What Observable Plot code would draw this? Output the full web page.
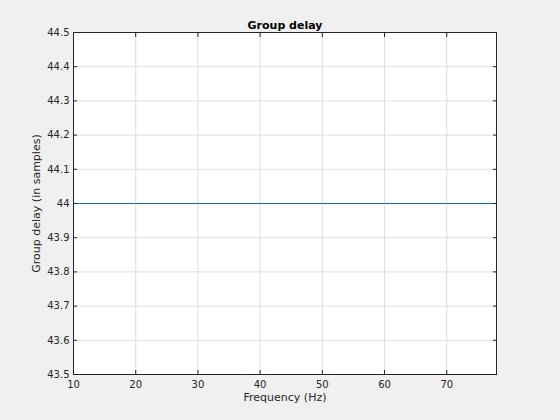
<!DOCTYPE html>
<html>
<head>
<meta charset="utf-8">
<script src="https://cdn.jsdelivr.net/npm/d3@7"></script>
<script src="https://cdn.jsdelivr.net/npm/@observablehq/plot@0.6"></script>
<style>
  html, body { margin: 0; padding: 0; background: #f0f0f0; }
  #chart svg { display: block; }
</style>
</head>
<body>
<div id="chart"></div>
<script>
const frequencies = [10, 20, 30, 40, 50, 60, 70, 78];
const groupDelay = [44, 44, 44, 44, 44, 44, 44, 44];
const xTicks = [10, 20, 30, 40, 50, 60, 70];
const yTicks = [43.5, 43.6, 43.7, 43.8, 43.9, 44, 44.1, 44.2, 44.3, 44.4, 44.5];
const xDomain = [10, 78];
const yDomain = [43.5, 44.5];
const title = "Group delay";
const xLabel = "Frequency (Hz)";
const yLabel = "Group delay (in samples)";

const data = frequencies.map((f, i) => ({f, g: groupDelay[i]}));
const fmt = d => String(+d.toFixed(1));
const ink = "#262626";

const chart = Plot.plot({
  width: 560,
  height: 420,
  marginLeft: 73,
  marginRight: 64,
  marginTop: 32,
  marginBottom: 46,
  style: {background: "#f0f0f0", fontFamily: "DejaVu Sans, sans-serif", fontSize: "10px", color: ink},
  x: {domain: xDomain, label: null},
  y: {domain: yDomain, label: null},
  marks: [
    Plot.frame({fill: "white", stroke: "none"}),
    Plot.gridX(xTicks, {stroke: "#dedede", strokeOpacity: 1}),
    Plot.gridY(yTicks, {stroke: "#dedede", strokeOpacity: 1}),
    Plot.line(data, {x: "f", y: "g", stroke: "#0072BD", strokeWidth: 1}),
    Plot.frame({stroke: ink, strokeWidth: 1}),
    Plot.axisX(xTicks, {anchor: "bottom", tickSize: 4, dy: -4, text: null, stroke: ink}),
    Plot.axisX(xTicks, {anchor: "top", tickSize: 4, dy: 4, text: null, stroke: ink}),
    Plot.axisY(yTicks, {anchor: "left", tickSize: 4, dx: 4, text: null, stroke: ink}),
    Plot.axisY(yTicks, {anchor: "right", tickSize: 4, dx: -4, text: null, stroke: ink}),
    Plot.axisX(xTicks, {anchor: "bottom", tickSize: 0, tickPadding: 6, tickFormat: fmt, fill: ink, label: null}),
    Plot.axisY(yTicks, {anchor: "left", tickSize: 0, tickPadding: 4, tickFormat: fmt, fill: ink, label: null}),
    Plot.text([title], {frameAnchor: "top", dy: -11, text: d => d, fontWeight: "bold", fontSize: 11, fill: "black"}),
    Plot.text([xLabel], {frameAnchor: "bottom", dy: 26, text: d => d, fontSize: 11, fill: ink}),
    Plot.text([yLabel], {frameAnchor: "left", textAnchor: "middle", dx: -37, rotate: -90, text: d => d, fontSize: 11, fill: ink})
  ]
});
document.getElementById("chart").appendChild(chart);
</script>
</body>
</html>
